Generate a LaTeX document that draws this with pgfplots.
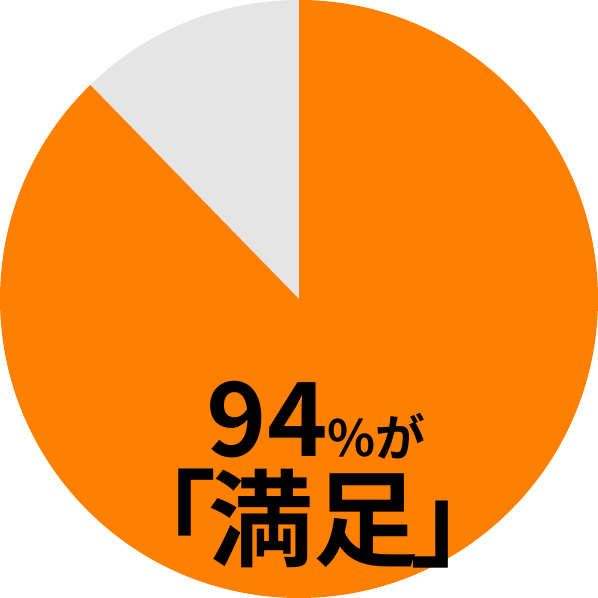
\documentclass[border=0pt]{standalone}
\usepackage{pgfplots}
\pgfplotsset{compat=1.18}
\usepackage{pgfplotstable}
\usepackage{fontspec}
\newfontfamily\jp{Noto Sans CJK JP}[BoldFont={* Bold}]
\definecolor{pieorange}{HTML}{FF8000}
\definecolor{piegray}{HTML}{E5E5E5}

% share of each slice, in percent (as drawn)
\pgfplotstableread{
label   value
satisfied 87.7
other     12.3
}\piedata

\begin{document}
\begin{tikzpicture}
\pgfplotstablegetelem{0}{value}\of\piedata \let\vsat\pgfplotsretval
\pgfplotstablegetelem{1}{value}\of\piedata \let\voth\pgfplotsretval
\pgfmathsetmacro{\aend}{90+3.6*\voth}
\pgfmathsetmacro{\xe}{cos(\aend)}
\pgfmathsetmacro{\ye}{sin(\aend)}
\begin{axis}[
    hide axis,
    scale only axis,
    width=8cm, height=8cm,
    xmin=-1, xmax=1, ymin=-1, ymax=1,
    clip=false,
]
\fill[piegray] (axis cs:0,0) -- (axis cs:0,1) arc[start angle=90, end angle=\aend, radius=4cm] -- cycle;
\fill[pieorange] (axis cs:0,0) -- (axis cs:\xe,\ye) arc[start angle=\aend, end angle=450, radius=4cm] -- cycle;
\node[anchor=base, inner sep=0pt, font=\jp\bfseries] at (axis cs:0.057,-0.528)
  {\fontsize{39}{39}\selectfont 94\fontsize{19}{19}\selectfont\%が};
\node[anchor=center, inner sep=0pt, font=\jp\bfseries] at (axis cs:0.048,-0.735)
  {\fontsize{40}{40}\selectfont 「\kern-0.08em 満足\kern-0.08em 」};
\end{axis}
\pgfresetboundingbox
\path[use as bounding box] (current axis.south west) rectangle (current axis.north east);
\end{tikzpicture}
\end{document}
